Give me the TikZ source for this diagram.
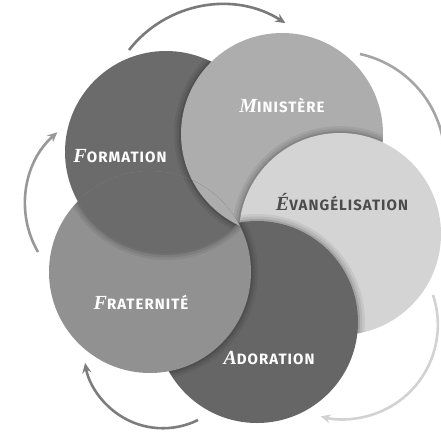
\documentclass[tikz,border=0pt]{standalone}
\usepackage{fontspec}
\usetikzlibrary{arrows.meta}
\newfontfamily\labsans[LetterSpace=7]{Fira Sans}
\newfontfamily\labserif{Liberation Serif}
\definecolor{cForm}{gray}{0.42}
\definecolor{cMin}{gray}{0.68}
\definecolor{cEva}{gray}{0.83}
\definecolor{cAdo}{gray}{0.40}
\definecolor{cFra}{gray}{0.57}
\definecolor{cEvaTxt}{gray}{0.30}
\newcommand\ini[1]{{\labserif\itshape\fontsize{20}{20}\selectfont #1}}
\newcommand\shadowring[1]{%
  \draw[line width=14pt, black, opacity=0.06] #1 circle[radius=101];
  \draw[line width=9pt, black, opacity=0.08] #1 circle[radius=101];
  \draw[line width=4pt, black, opacity=0.11] #1 circle[radius=101];}
\tikzset{
  lbl/.style={text=white, inner sep=0pt, font=\labsans\bfseries\fontsize{15}{16}\selectfont},
  arr/.style={line width=2.6pt, -{Stealth[length=10pt,width=9pt]}},
  arrplain/.style={line width=2.6pt}
}
\begin{document}
\begin{tikzpicture}[x=1pt,y=-1pt]
\useasboundingbox (0,0) rectangle (441,431);
% centres of the five circles
\coordinate (cF) at (166,152);
\coordinate (cM) at (282,134);
\coordinate (cE) at (340,234);
\coordinate (cA) at (257,322);
\coordinate (cR) at (150,272);
% Formation
\fill[cForm] (cF) circle[radius=101];
% Ministere over Formation
\begin{scope}\clip (cF) circle[radius=101]; \shadowring{(cM)} \end{scope}
\fill[cMin] (cM) circle[radius=101];
% Evangelisation over Ministere
\begin{scope}\clip (cM) circle[radius=101]; \shadowring{(cE)} \end{scope}
\fill[cEva] (cE) circle[radius=101];
% Adoration over Evangelisation
\begin{scope}\clip (cE) circle[radius=101]; \shadowring{(cA)} \end{scope}
\fill[cAdo] (cA) circle[radius=101];
% Fraternite over Adoration
\begin{scope}\clip (cA) circle[radius=101]; \shadowring{(cR)} \end{scope}
\fill[cFra] (cR) circle[radius=101];
% Formation over Fraternite
\begin{scope}\clip (cR) circle[radius=101];
  \shadowring{(cF)}
  \fill[cForm] (cF) circle[radius=101];
  \begin{scope}\clip (cF) circle[radius=101]; \shadowring{(cM)} \end{scope}
  \fill[cMin] (cM) circle[radius=101];
\end{scope}
% labels
\node[lbl] (tF) at (120,156) {\ini{F}ORMATION};
\node[lbl] (tM) at (282,105) {\ini{M}INISTÈRE};
\node[lbl, text=cEvaTxt] (tE) at (342,202) {\ini{É}VANGÉLISATION};
\node[lbl] (tR) at (141,302) {\ini{F}RATERNITÉ};
\node[lbl] (tA) at (269,358) {\ini{A}DORATION};
% arrows
\coordinate (a1) at (129,50);
\draw[arr, color={rgb,255:red,122;green,122;blue,122}] (a1) arc[start angle=-142, end angle=-57.5, radius=118];
\coordinate (a2) at (360,54);
\draw[arrplain, color={rgb,255:red,165;green,165;blue,165}] (a2) arc[start angle=-77.6, end angle=-5, radius=108];
\coordinate (a3) at (433,295);
\draw[arr, color={rgb,255:red,210;green,210;blue,210}] (a3) arc[start angle=-18.4, end angle=104, radius=94.4];
\coordinate (a4) at (198,420);
\draw[arr, color={rgb,255:red,125;green,125;blue,125}] (a4) arc[start angle=63.6, end angle=170, radius=79];
\coordinate (a5) at (38,252);
\draw[arr, color={rgb,255:red,152;green,152;blue,152}] (a5) arc[start angle=150, end angle=228.4, radius=96];
\end{tikzpicture}
\end{document}
